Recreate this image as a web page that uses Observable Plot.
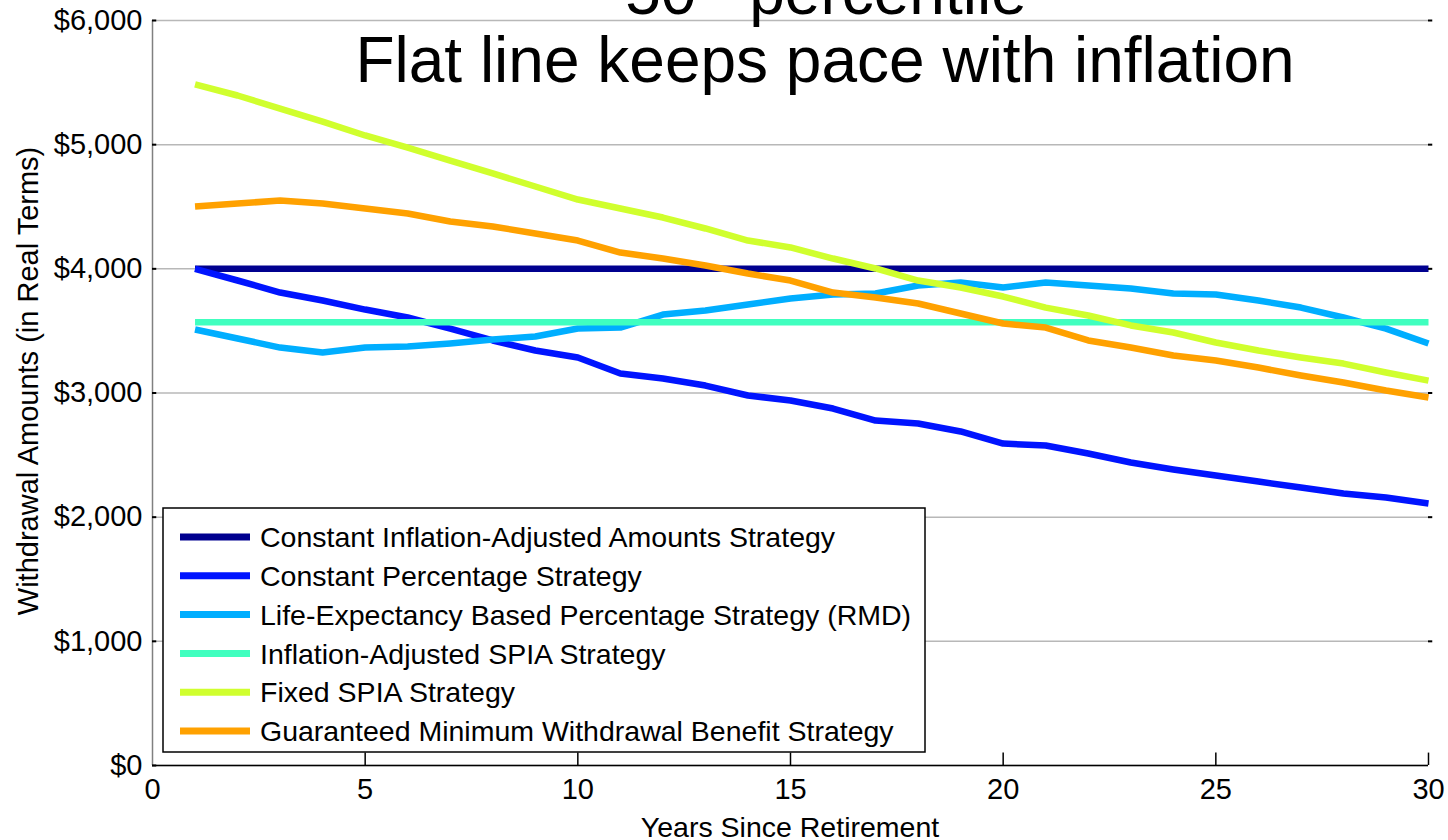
<!DOCTYPE html>
<html>
<head>
<meta charset="utf-8">
<script src="https://cdn.jsdelivr.net/npm/d3@7"></script>
<script src="https://cdn.jsdelivr.net/npm/@observablehq/plot@0.6"></script>
<style>
  html, body { margin: 0; padding: 0; background: #fff; }
  #chart { width: 1448px; height: 840px; overflow: hidden; }
  #chart svg { display: block; }
</style>
</head>
<body>
<div id="chart"></div>
<script>
const FONT = "'Liberation Sans', Arial, Helvetica, sans-serif";

// ---- Data ----
const years = [1,2,3,4,5,6,7,8,9,10,11,12,13,14,15,16,17,18,19,20,21,22,23,24,25,26,27,28,29,30];

const seriesNames = [
  "Constant Inflation-Adjusted Amounts Strategy",
  "Constant Percentage Strategy",
  "Life-Expectancy Based Percentage Strategy (RMD)",
  "Inflation-Adjusted SPIA Strategy",
  "Fixed SPIA Strategy",
  "Guaranteed Minimum Withdrawal Benefit Strategy"
];
const seriesColors = ["#00008F", "#0014FF", "#00AEFF", "#40FFBF", "#D0FF2E", "#FFA100"];

const constantInflationAdjusted = [4000,4000,4000,4000,4000,4000,4000,4000,4000,4000,4000,4000,4000,4000,4000,4000,4000,4000,4000,4000,4000,4000,4000,4000,4000,4000,4000,4000,4000,4000];
const constantPercentage = [4000,3906,3809,3745,3672,3608,3519,3423,3342,3286,3157,3117,3060,2980,2940,2875,2778,2754,2690,2593,2577,2513,2440,2384,2335,2287,2239,2191,2158,2110];
const lifeExpectancyRMD = [3511,3439,3366,3326,3366,3374,3399,3431,3455,3519,3527,3632,3664,3713,3761,3793,3801,3866,3890,3850,3890,3866,3841,3801,3793,3745,3688,3608,3519,3399];
const inflationAdjustedSPIA = [3570,3570,3570,3570,3570,3570,3570,3570,3570,3570,3570,3570,3570,3570,3570,3570,3570,3570,3570,3570,3570,3570,3570,3570,3570,3570,3570,3570,3570,3570];
const fixedSPIA = [5485,5396,5291,5186,5074,4977,4872,4768,4663,4558,4486,4413,4325,4228,4172,4083,4003,3906,3850,3777,3688,3624,3544,3487,3407,3342,3286,3237,3165,3100];
const gmwb = [4502,4526,4550,4526,4486,4446,4381,4341,4285,4228,4131,4083,4027,3962,3906,3809,3769,3721,3640,3560,3527,3423,3366,3302,3262,3205,3141,3084,3020,2964];

const seriesValues = [constantInflationAdjusted, constantPercentage, lifeExpectancyRMD, inflationAdjustedSPIA, fixedSPIA, gmwb];

const xTicks = [0, 5, 10, 15, 20, 25, 30];
const yTicks = [0, 1000, 2000, 3000, 4000, 5000, 6000];
const yTickLabels = ["$0", "$1,000", "$2,000", "$3,000", "$4,000", "$5,000", "$6,000"];

const titleBase = "50";
const titleSup = "th";
const titleRest = " percentile";
const titleLine2 = "Flat line keeps pace with inflation";
const xLabel = "Years Since Retirement";
const yLabel = "Withdrawal Amounts (in Real Terms)";

// ---- Build table ----
const data = seriesNames.flatMap((name, k) =>
  years.map((yr, i) => ({ series: name, year: yr, value: seriesValues[k][i] }))
);

const svg = Plot.plot({
  width: 1448,
  height: 840,
  marginLeft: 152,
  marginRight: 20,
  marginTop: 20,
  marginBottom: 75,
  style: { fontFamily: FONT, background: "#fff", color: "#000" },
  x: { domain: [0, 30] },
  y: { domain: [0, 6000] },
  color: { domain: seriesNames, range: seriesColors },
  marks: [
    Plot.gridY(yTicks, { stroke: "#b8b8b8", strokeOpacity: 1, strokeWidth: 1.5 }),
    Plot.line(data, {
      x: "year", y: "value", z: "series", stroke: "series",
      strokeWidth: 6.5, strokeLinecap: "butt", strokeLinejoin: "round"
    }),
    Plot.ruleX([0], { stroke: "#808080", strokeWidth: 1.5 }),
    Plot.ruleY([0], { stroke: "#000", strokeWidth: 1.5 }),
    Plot.ruleX(xTicks.slice(1), { y1: 0, y2: 100, stroke: "#000", strokeWidth: 1.5 }),
    Plot.ruleY(yTicks, { x1: 0, x2: 0.1, stroke: "#000", strokeWidth: 2 }),
    Plot.ruleY(yTicks.slice(1), { x1: 30, x2: 30.1, stroke: "#000", strokeWidth: 2 }),
    Plot.axisY(yTicks, {
      tickSize: 0, tickPadding: 10, fontSize: 29, label: null,
      tickFormat: d => yTickLabels[yTicks.indexOf(d)]
    }),
    Plot.axisX(xTicks, { tickSize: 0, tickPadding: 13, fontSize: 29, label: null })
  ]
});

const s = d3.select(svg);

// Title (two lines, first partly cut off at the top)
const t1 = s.append("text")
  .attr("x", 826).attr("y", 14)
  .attr("text-anchor", "middle")
  .style("font-family", FONT).style("font-size", "64px").attr("fill", "#000");
t1.append("tspan").text(titleBase);
t1.append("tspan").attr("dy", -26).style("font-size", "42px").text(titleSup);
t1.append("tspan").attr("dy", 26).text(titleRest);

s.append("text")
  .attr("x", 825).attr("y", 82)
  .attr("text-anchor", "middle")
  .style("font-family", FONT).style("font-size", "64px").attr("fill", "#000")
  .text(titleLine2);

// Axis labels
s.append("text")
  .attr("x", 790).attr("y", 837)
  .attr("text-anchor", "middle")
  .style("font-family", FONT).style("font-size", "28.5px").attr("fill", "#000")
  .text(xLabel);

s.append("text")
  .attr("transform", "translate(38,381) rotate(-90)")
  .attr("text-anchor", "middle")
  .style("font-family", FONT).style("font-size", "29px").attr("fill", "#000")
  .text(yLabel);

// Legend
const leg = s.append("g").attr("text-anchor", "start");
leg.append("rect")
  .attr("x", 163).attr("y", 508).attr("width", 762).attr("height", 244)
  .attr("fill", "#fff").attr("stroke", "#000").attr("stroke-width", 1.5);
seriesNames.forEach((name, i) => {
  const cy = 537 + i * 38.8;
  leg.append("line")
    .attr("x1", 180).attr("x2", 250).attr("y1", cy).attr("y2", cy)
    .attr("stroke", seriesColors[i]).attr("stroke-width", 7);
  leg.append("text")
    .attr("x", 260).attr("y", cy).attr("dy", "0.36em")
    .attr("text-anchor", "start")
    .style("font-family", FONT).style("font-size", "28.5px").attr("fill", "#000")
    .text(name);
});

document.getElementById("chart").appendChild(svg);
</script>
</body>
</html>
